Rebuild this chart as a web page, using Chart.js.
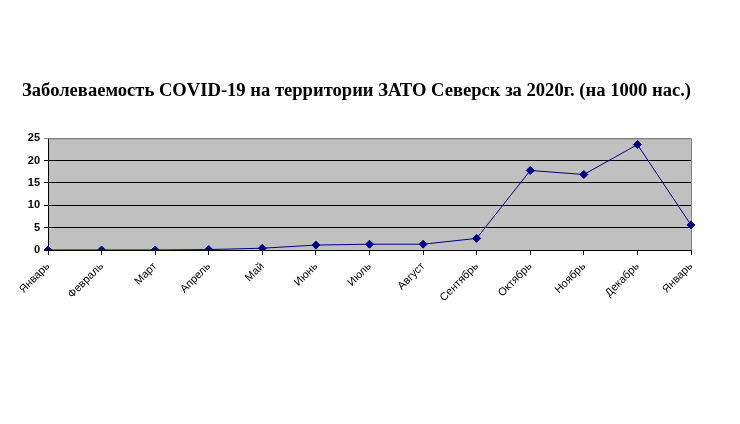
<!DOCTYPE html>
<html>
<head>
<meta charset="utf-8">
<script src="https://cdn.jsdelivr.net/npm/chart.js@4/dist/chart.umd.min.js"></script>
<style>
  html, body { margin: 0; padding: 0; background: #fff; }
  #wrap { width: 740px; height: 424px; }
</style>
</head>
<body>
<div id="wrap"><canvas id="covidChart" width="740" height="424"></canvas></div>
<script>
// Данные с графика
const months = ['Январь', 'Февраль', 'Март', 'Апрель', 'Май', 'Июнь', 'Июль', 'Август', 'Сентябрь', 'Октябрь', 'Ноябрь', 'Декабрь', 'Январь'];
const cases = [0, 0, 0, 0.1, 0.4, 1.1, 1.3, 1.3, 2.6, 17.8, 16.9, 23.6, 5.6];
const yTicks = [0, 5, 10, 15, 20, 25];

// Серый фон области построения и рамка сверху/справа
const plotArea = {
  id: 'plotArea',
  beforeDraw(chart) {
    const a = chart.chartArea;
    const ctx = chart.ctx;
    ctx.save();
    ctx.fillStyle = '#c0c0c0';
    ctx.fillRect(a.left, a.top, a.right - a.left, a.bottom - a.top);
    ctx.restore();
  },
  beforeDatasetsDraw(chart) {
    const a = chart.chartArea;
    const ctx = chart.ctx;
    ctx.save();
    ctx.strokeStyle = '#808080';
    ctx.lineWidth = 1;
    ctx.beginPath();
    ctx.moveTo(a.left, a.top + 0.5);
    ctx.lineTo(a.right + 0.5, a.top + 0.5);
    ctx.lineTo(a.right + 0.5, a.bottom);
    ctx.stroke();
    ctx.restore();
  }
};

const ctx = document.getElementById('covidChart').getContext('2d');
new Chart(ctx, {
  type: 'line',
  data: {
    labels: months,
    datasets: [{
      data: cases,
      borderColor: '#000080',
      backgroundColor: '#000080',
      borderWidth: 1,
      tension: 0,
      pointStyle: 'rectRot',
      pointRadius: 4,
      pointBackgroundColor: '#000080',
      pointBorderColor: '#000080'
    }]
  },
  options: {
    responsive: false,
    animation: false,
    layout: { padding: { left: 22, right: 49, top: 0, bottom: 0 } },
    plugins: {
      legend: { display: false },
      tooltip: { enabled: false },
      title: {
        display: true,
        align: 'start',
        text: 'Заболеваемость COVID-19 на территории ЗАТО Северск за 2020г. (на 1000 нас.)',
        color: '#000',
        font: { family: '"Liberation Serif", "Times New Roman", serif', size: 18.6, weight: 'bold' },
        padding: { top: 80, bottom: 36 }
      }
    },
    scales: {
      x: {
        offset: false,
        grid: { drawOnChartArea: false, drawTicks: true, tickLength: 5, color: '#000' },
        border: { color: '#000' },
        ticks: {
          color: '#000',
          minRotation: 45,
          maxRotation: 45,
          autoSkip: false,
          padding: 5,
          font: { family: 'Arial, "Liberation Sans", sans-serif', size: 11 }
        },
        afterFit(scale) { scale.height = 174; }
      },
      y: {
        min: 0,
        max: 25,
        afterBuildTicks(scale) { scale.ticks = yTicks.map(v => ({ value: v })); },
        grid: {
          color: ctx => (ctx.tick && ctx.tick.value === 25 ? '#808080' : '#000'),
          tickLength: 4
        },
        border: { color: '#000' },
        ticks: {
          color: '#000',
          padding: 4,
          font: { family: 'Arial, "Liberation Sans", sans-serif', size: 11, weight: 'bold' }
        },
        afterFit(scale) { scale.width = 26; }
      }
    }
  },
  plugins: [plotArea]
});
</script>
</body>
</html>
